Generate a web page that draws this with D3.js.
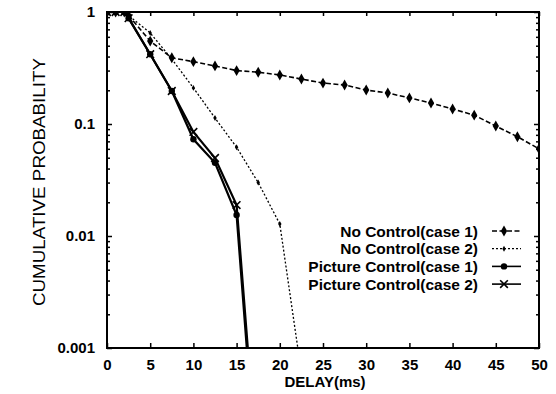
<!DOCTYPE html>
<html>
<head>
<meta charset="utf-8">
<script src="https://cdn.jsdelivr.net/npm/d3@7"></script>
<style>
  body { margin: 0; background: #fff; }
  text { font-family: "Liberation Sans", Arial, sans-serif; fill: #000; }
</style>
</head>
<body>
<div id="chart"></div>
<script>
// delay values (ms) and cumulative probabilities
const ncDelay1 = [0, 1, 2, 2.5, 5, 7.5, 10, 12.5, 15, 17.5, 20, 22.5, 25, 27.5, 30, 32.5, 35, 37.5, 40, 42.5, 45, 47.5, 50];
const ncProb1 = [1, 1, 1, 0.93, 0.55, 0.39, 0.36, 0.33, 0.30, 0.29, 0.274, 0.252, 0.232, 0.223, 0.201, 0.189, 0.171, 0.154, 0.136, 0.120, 0.096, 0.077, 0.060];
const ncDelay2 = [0, 1, 2, 2.5, 5, 7.5, 10, 12.5, 15, 17.5, 20, 22.5];
const ncProb2 = [1, 1, 1, 0.93, 0.65, 0.38, 0.21, 0.113, 0.062, 0.030, 0.0128, 0.0006];
const pcDelay = [0, 1, 2, 2.5, 5, 7.5, 10, 12.5, 15, 17.5];
const pcProb1 = [1, 1, 1, 0.88, 0.42, 0.197, 0.073, 0.045, 0.0154, 0.000047];
const pcProb2 = [1, 1, 1, 0.88, 0.42, 0.197, 0.085, 0.0497, 0.0189, 0.000065];

const seriesNames = ["No Control(case 1)", "No Control(case 2)", "Picture Control(case 1)", "Picture Control(case 2)"];
const xTicks = [0, 5, 10, 15, 20, 25, 30, 35, 40, 45, 50];
const yTicks = [1, 0.1, 0.01, 0.001];
const yTickLabels = ["1", "0.1", "0.01", "0.001"];

const width = 556, height = 394;
const margin = {top: 12, right: 17, bottom: 46, left: 107};
const w = width - margin.left - margin.right;
const h = height - margin.top - margin.bottom;

const svg = d3.select("#chart").append("svg")
  .attr("width", width)
  .attr("height", height);

const g = svg.append("g")
  .attr("transform", "translate(" + margin.left + "," + margin.top + ")");

const x = d3.scaleLinear().domain([0, 50]).range([0, w]);
const y = d3.scaleLog().domain([0.001, 1]).range([h, 0]);

svg.append("defs").append("clipPath").attr("id", "clip")
  .append("rect").attr("width", w).attr("height", h);

// minor log ticks
const minor = [];
[0.001, 0.01, 0.1].forEach(d => { for (let k = 2; k <= 9; k++) minor.push(d * k); });

// axes with inward ticks
g.append("g").attr("transform", "translate(0," + h + ")")
  .call(d3.axisBottom(x).tickValues(xTicks).tickSize(-5).tickPadding(11))
  .call(a => a.select(".domain").remove())
  .selectAll("text").attr("font-size", 15).attr("font-weight", "bold");
g.append("g")
  .call(d3.axisTop(x).tickValues(xTicks).tickSize(-4).tickFormat(""))
  .call(a => a.select(".domain").remove());
g.append("g")
  .call(d3.axisLeft(y).tickValues(yTicks).tickSize(-5).tickPadding(12)
    .tickFormat((d, i) => yTickLabels[i]))
  .call(a => a.select(".domain").remove())
  .selectAll("text").attr("font-size", 15).attr("font-weight", "bold");
g.append("g")
  .call(d3.axisLeft(y).tickValues(minor).tickSize(-3).tickFormat(""))
  .call(a => a.select(".domain").remove());
g.append("g").attr("transform", "translate(" + w + ",0)")
  .call(d3.axisRight(y).tickValues(yTicks).tickSize(-5).tickFormat(""))
  .call(a => a.select(".domain").remove());
g.append("g").attr("transform", "translate(" + w + ",0)")
  .call(d3.axisRight(y).tickValues(minor).tickSize(-3).tickFormat(""))
  .call(a => a.select(".domain").remove());
g.selectAll(".tick line").attr("stroke", "#000").attr("stroke-width", 1.5);

// frame
g.append("rect").attr("width", w).attr("height", h)
  .attr("fill", "none").attr("stroke", "#000").attr("stroke-width", 2);

// axis titles
svg.append("text")
  .attr("transform", "translate(45," + (margin.top + h / 2 + 2) + ") rotate(-90)")
  .attr("text-anchor", "middle")
  .attr("font-size", 16)
  .attr("textLength", 248)
  .attr("lengthAdjust", "spacingAndGlyphs")
  .text("CUMULATIVE PROBABILITY");
svg.append("text")
  .attr("x", margin.left + x(25) + 2)
  .attr("y", 387)
  .attr("text-anchor", "middle")
  .attr("font-size", 15)
  .attr("font-weight", "bold")
  .text("DELAY(ms)");

// series
const series = [
  {xs: ncDelay1, ys: ncProb1, dash: "5,2.5", sw: 1.6, mark: "diamond"},
  {xs: ncDelay2, ys: ncProb2, dash: "2,2", sw: 1.3, mark: "small"},
  {xs: pcDelay, ys: pcProb1, dash: null, sw: 2.2, mark: "circle"},
  {xs: pcDelay, ys: pcProb2, dash: null, sw: 2.2, mark: "cross"}
];

const line = d3.line().x(d => x(d[0])).y(d => y(d[1]));

function drawMarker(sel, type, cx, cy) {
  if (type === "diamond") {
    sel.append("path").attr("d", d3.symbol(d3.symbolDiamond, 34)())
      .attr("transform", "translate(" + cx + "," + cy + ")").attr("fill", "#000");
  } else if (type === "small") {
    sel.append("path").attr("d", d3.symbol(d3.symbolDiamond, 10)())
      .attr("transform", "translate(" + cx + "," + cy + ")").attr("fill", "#000");
  } else if (type === "circle") {
    sel.append("circle").attr("cx", cx).attr("cy", cy).attr("r", 3.2).attr("fill", "#000");
  } else {
    sel.append("path").attr("d", d3.symbol(d3.symbolTimes, 40)())
      .attr("transform", "translate(" + cx + "," + cy + ")")
      .attr("fill", "none").attr("stroke", "#000").attr("stroke-width", 1.6);
  }
}

const plot = g.append("g").attr("clip-path", "url(#clip)");
series.forEach(s => {
  const pts = s.xs.map((d, i) => [d, s.ys[i]]);
  plot.append("path").datum(pts)
    .attr("d", line)
    .attr("fill", "none").attr("stroke", "#000")
    .attr("stroke-width", s.sw)
    .attr("stroke-dasharray", s.dash);
  pts.filter(p => p[1] >= 0.001).forEach(p => drawMarker(plot, s.mark, x(p[0]), y(p[1])));
});

// legend
const legend = svg.append("g");
seriesNames.forEach((name, i) => {
  const ly = 231 + i * 17.7;
  const s = series[i];
  legend.append("text")
    .attr("x", 478).attr("y", ly + 5.5)
    .attr("text-anchor", "end")
    .attr("font-size", 15.5).attr("font-weight", "bold")
    .text(name);
  legend.append("line")
    .attr("x1", 492).attr("x2", 521).attr("y1", ly).attr("y2", ly)
    .attr("stroke", "#000").attr("stroke-width", s.sw > 2 ? 1.6 : s.sw)
    .attr("stroke-dasharray", s.dash);
  drawMarker(legend, s.mark, 504, ly);
});
</script>
</body>
</html>
